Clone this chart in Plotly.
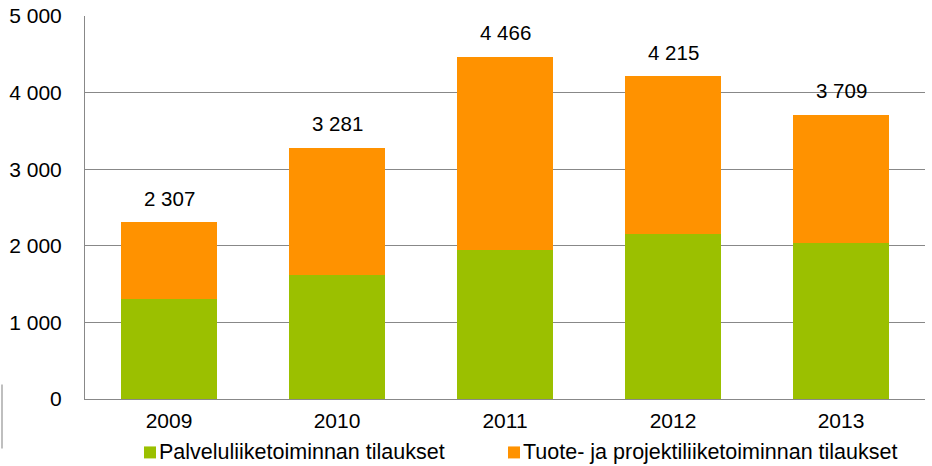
import plotly.graph_objects as go

years = ["2009", "2010", "2011", "2012", "2013"]
palvelu = [1306, 1614, 1949, 2158, 2031]
totals = [2307, 3281, 4466, 4215, 3709]
tuote = [t - p for t, p in zip(totals, palvelu)]
total_labels = ["2 307", "3 281", "4 466", "4 215", "3 709"]
ytick_vals = [0, 1000, 2000, 3000, 4000, 5000]
ytick_text = ["0", "1 000", "2 000", "3 000", "4 000", "5 000"]
series_names = ["Palveluliiketoiminnan tilaukset", "Tuote- ja projektiliiketoiminnan tilaukset"]

GREEN = "#9BC000"
ORANGE = "#FF9200"
GRID = "#888888"
FONT = "Liberation Sans, Arial, sans-serif"

PH = 383.5  # plot height in px
PW = 840.0  # plot width in px

fig = go.Figure()
fig.add_trace(go.Bar(x=years, y=palvelu, name=series_names[0], marker=dict(color=GREEN, line=dict(width=0)), showlegend=False))
fig.add_trace(go.Bar(x=years, y=tuote, name=series_names[1], marker=dict(color=ORANGE, line=dict(width=0)), showlegend=False))

for i, (tot, lab) in enumerate(zip(totals, total_labels)):
    fig.add_annotation(x=i, y=tot, text=lab, showarrow=False, yanchor="middle", yshift=24,
                       font=dict(size=20.5, color="#000000", family=FONT))

# manual legend
leg_y = (399.5 - 453) / PH
legend_items = [(59 / PW, GREEN, series_names[0]), (423 / PW, ORANGE, series_names[1])]
for xp, col, name in legend_items:
    fig.add_shape(type="rect", xref="paper", yref="paper", x0=xp, x1=xp + 12 / PW,
                  y0=leg_y - 6 / PH, y1=leg_y + 6 / PH, fillcolor=col, line=dict(width=0))
    fig.add_annotation(xref="paper", yref="paper", x=xp + 13 / PW, y=leg_y, text=name,
                       showarrow=False, xanchor="left", yanchor="middle",
                       font=dict(size=21.5, color="#000000", family=FONT))

# left edge artifact line
fig.add_shape(type="line", xref="paper", yref="paper", x0=-83 / PW, x1=-83 / PW,
              y0=(399.5 - 449) / PH, y1=(399.5 - 385) / PH, line=dict(color="#AAAAAA", width=1.5))

fig.update_layout(
    barmode="stack",
    bargap=0.43,
    width=932, height=466,
    margin=dict(l=85, r=7, t=16, b=66.5, autoexpand=False),
    plot_bgcolor="white", paper_bgcolor="white",
    font=dict(family=FONT, size=21, color="#000000"),
    xaxis=dict(type="category", showgrid=False, showline=True, linecolor=GRID, linewidth=1, ticks="",
               tickfont=dict(size=21), fixedrange=True, automargin=False, ticklabelstandoff=3),
    yaxis=dict(range=[0, 5000], tickvals=ytick_vals, ticktext=ytick_text, showgrid=True,
               gridcolor=GRID, gridwidth=1, showline=True, linecolor=GRID, linewidth=1,
               zeroline=False, ticks="", ticklabelstandoff=18, tickfont=dict(size=21),
               automargin=False),
)

fig.write_html("out.html", config={"displayModeBar": False},
               post_script="document.body.style.margin='0';document.body.style.overflow='hidden';")
